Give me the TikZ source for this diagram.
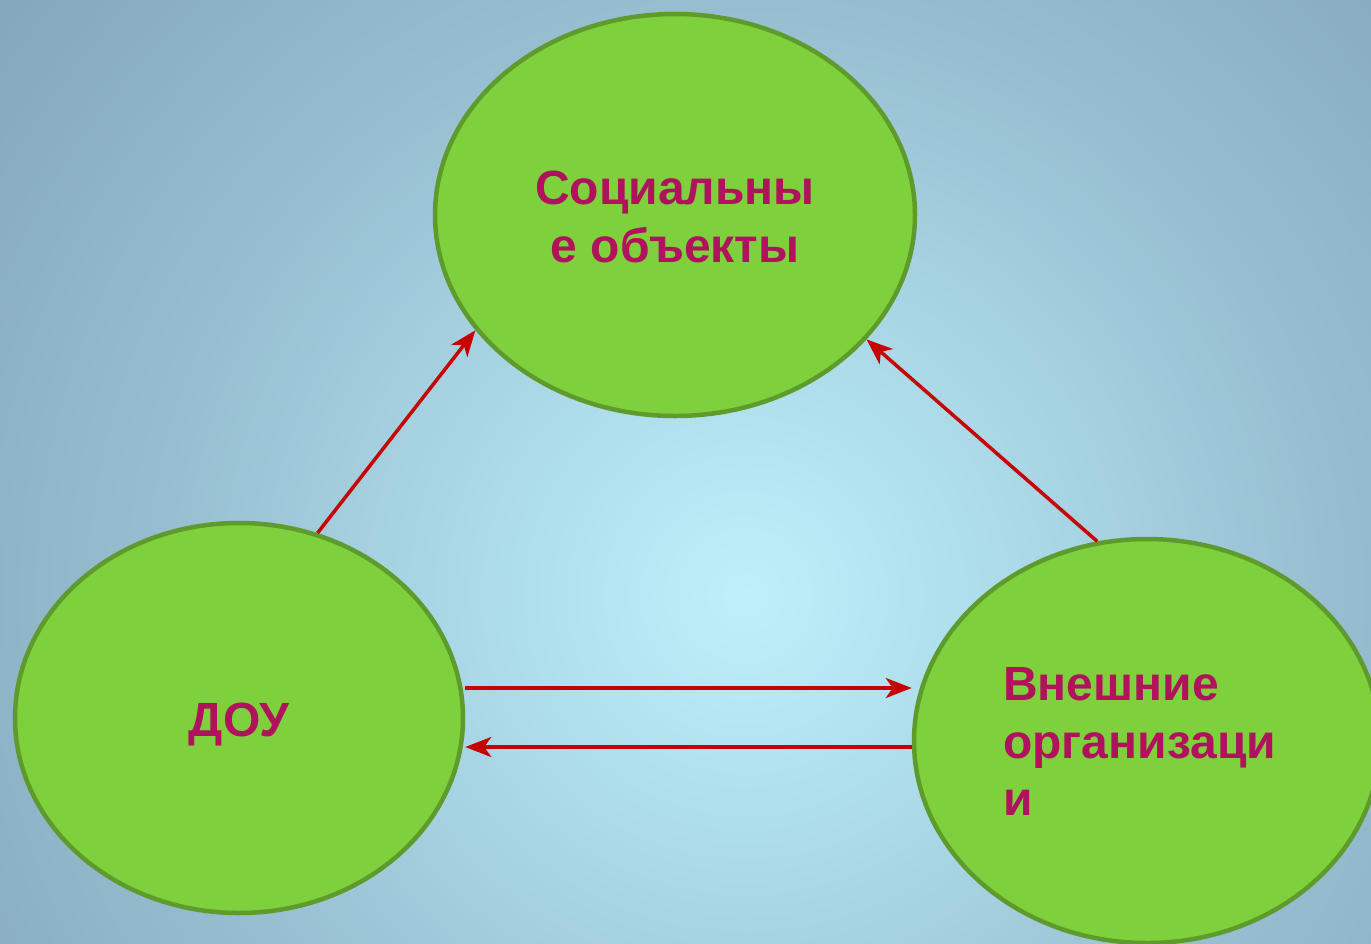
\documentclass[tikz,border=0pt]{standalone}
\usepackage{fontspec}
\setmainfont{Liberation Sans}
\usetikzlibrary{shapes.geometric,arrows.meta}
\definecolor{bgA}{RGB}{190,240,251}
\definecolor{bgB}{RGB}{172,218,232}
\definecolor{bgC}{RGB}{150,190,208}
\definecolor{bgD}{RGB}{131,167,189}
\definecolor{nodefill}{RGB}{126,209,61}
\definecolor{nodeedge}{RGB}{94,155,44}
\definecolor{lblcol}{RGB}{176,18,94}
\definecolor{arrcol}{RGB}{198,0,0}
\pgfdeclareradialshading{bgshade}{\pgfpoint{0bp}{0bp}}{color(0bp)=(bgA); color(28bp)=(bgB); color(61bp)=(bgC); color(99bp)=(bgD); color(100bp)=(bgD)}
\tikzset{
  circ/.style={ellipse, draw=nodeedge, line width=4.5pt, fill=nodefill, inner sep=0pt},
  lbl/.style={text=lblcol, font=\fontsize{48}{57.6}\selectfont\bfseries, inner sep=0pt},
  arr/.style={draw=arrcol, line width=3.5pt, -{Stealth[length=26pt,width=20pt,inset=7pt]}}
}
\begin{document}
\begin{tikzpicture}[x=1pt,y=-1pt]
\useasboundingbox (0,0) rectangle (1371,943);
\begin{scope}
  \clip (0,0) rectangle (1371,943);
  \pgflowlevelscope{\pgftransformcm{9.636}{0}{0}{9.636}{\pgfpoint{745pt}{-595pt}}}
  \pgfuseshading{bgshade}
  \endpgflowlevelscope
\end{scope}

\node[circ, minimum width=480pt, minimum height=402pt] (soc) at (675,215) {};
\node[circ, minimum width=448pt, minimum height=390pt] (dou) at (239,718) {};
\node[circ, minimum width=466pt, minimum height=404pt] (ext) at (1147,741) {};

\node[lbl, anchor=base] (s1) at (675,204) {Социальны};
\node[lbl, anchor=base] (s2) at (675,262) {е объекты};
\node[lbl, anchor=base] (d1) at (239,736) {ДОУ};
\node[lbl, anchor=base west] (e1) at (1003,700) {Внешние};
\node[lbl, anchor=base west] (e2) at (1003,758) {организаци};
\node[lbl, anchor=base west] (e3) at (1003,815) {и};

\draw[arr] (dou.67) -- (soc.210);
\draw[arr] (ext.104) -- (soc.-33);
\draw[arr] ([yshift=30pt]dou.east) -- ([yshift=30pt]dou.east -| ext.west);
\draw[arr] ([yshift=-29pt]dou.east -| ext.west) -- ([yshift=-29pt]dou.east);
\end{tikzpicture}
\end{document}
